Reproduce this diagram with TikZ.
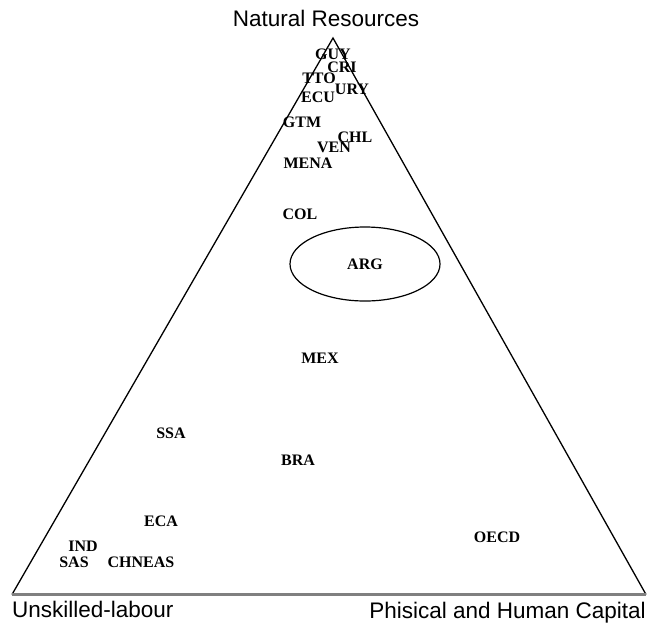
\documentclass[tikz,border=0pt]{standalone}
\usepackage{fontspec}
\setmainfont{Liberation Serif}
\newfontfamily\axisfont{Liberation Sans}
\usetikzlibrary{positioning, calc}

\tikzset{
  country/.style={font=\fontsize{16}{19}\selectfont\bfseries, inner sep=0pt},
  corner/.style={font=\axisfont\fontsize{22.5}{27}\selectfont, inner sep=0pt},
}

\begin{document}
\begin{tikzpicture}[x=1pt, y=-1pt]
      \useasboundingbox (0, 0) rectangle (647, 622);

      % triangle
      \coordinate (nat) at (333, 38);
      \coordinate (lab) at (12, 594.5);
      \coordinate (cap) at (646, 594.5);
      \draw[line width=1.3pt] (lab) -- (nat) -- (cap);
      \draw[gray, line width=2.6pt] (lab) -- (cap);

      % corner labels
      \node[corner] (natlabel) at (326, 18) {Natural Resources};
      \node[corner, anchor=base west] (lablabel) at (12, 617) {Unskilled-labour};
      \node[corner, anchor=base east] (caplabel) at (646, 618) {Phisical and Human Capital};

      % countries and regions
      \node[country] (GUY) at (333, 54) {GUY};
      \node[country] (CRI) at (342, 67) {CRI};
      \node[country] (TTO) at (319, 78) {TTO};
      \node[country] (URY) at (352, 89) {URY};
      \node[country] (ECU) at (318, 97) {ECU};
      \node[country] (GTM) at (302, 122) {GTM};
      \node[country] (CHL) at (355, 137) {CHL};
      \node[country] (VEN) at (334, 147) {VEN};
      \node[country] (MENA) at (308, 163) {MENA};
      \node[country] (COL) at (300, 214) {COL};
      \node[country] (ARG) at (365, 264) {ARG};
      \node[country] (MEX) at (320, 358) {MEX};
      \node[country] (SSA) at (171, 433) {SSA};
      \node[country] (BRA) at (298, 460) {BRA};
      \node[country] (ECA) at (161, 521) {ECA};
      \node[country] (IND) at (83, 546) {IND};
      \node[country] (SAS) at (74, 562) {SAS};
      \node[country] (CHNEAS) at (141, 562) {CHNEAS};
      \node[country] (OECD) at (497, 537) {OECD};

      \draw[line width=1.2pt] (ARG) ellipse (75 and 37);
\end{tikzpicture}
\end{document}
